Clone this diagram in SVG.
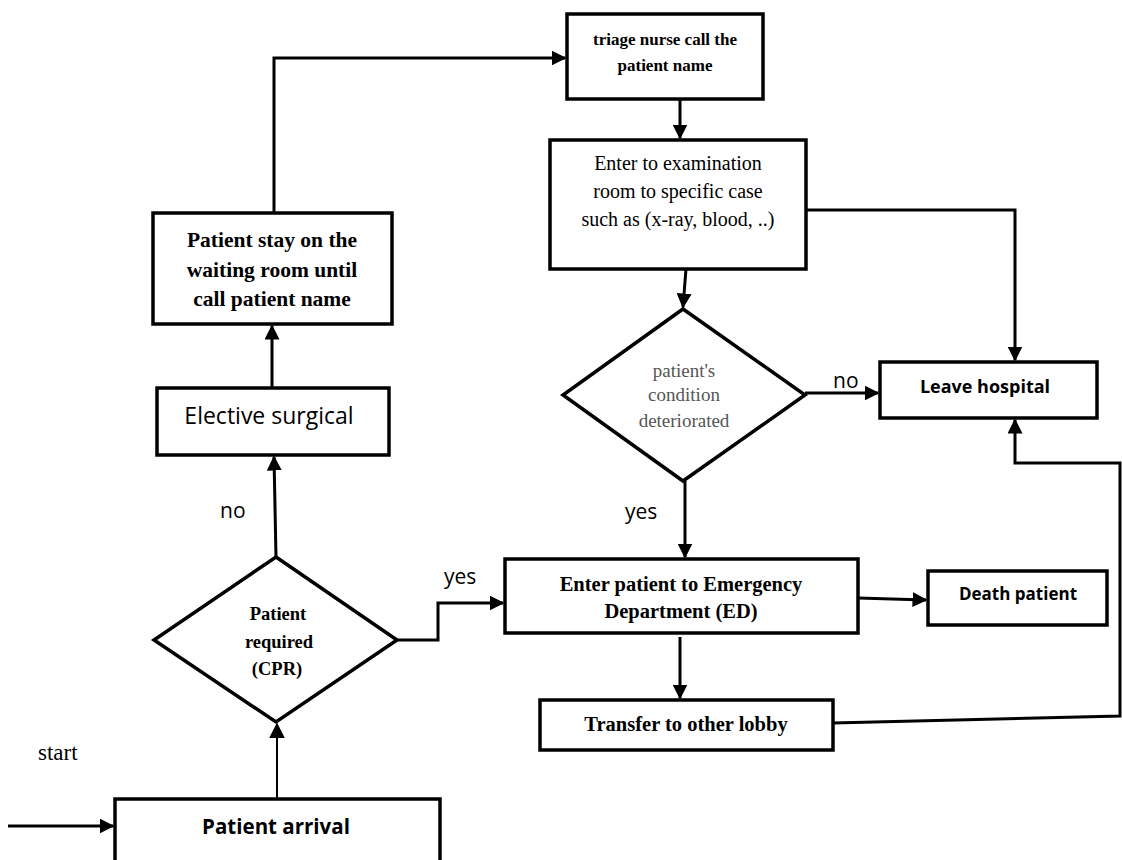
<svg xmlns="http://www.w3.org/2000/svg" width="1122" height="860" viewBox="0 0 1122 860">
<defs>
<marker id="ah" viewBox="0 0 10 10" refX="9" refY="5" markerWidth="5" markerHeight="5" markerUnits="strokeWidth" orient="auto">
<path d="M0,0 L10,5 L0,10 z" fill="#000"/>
</marker>
<marker id="ah2" viewBox="0 0 10 10" refX="9" refY="5" markerWidth="8" markerHeight="8" markerUnits="strokeWidth" orient="auto">
<path d="M0,0 L10,5 L0,10 z" fill="#000"/>
</marker>
<style>
.box{fill:#fff;stroke:#000;stroke-width:3.5}
.c{fill:none;stroke:#000;stroke-width:3}
.bs{font-family:"Liberation Serif",serif;font-weight:bold;fill:#000;text-anchor:middle}
.ns{font-family:"Liberation Serif",serif;font-size:20px;fill:#000;text-anchor:middle}
.gs{font-family:"Liberation Serif",serif;font-size:19px;fill:#555;text-anchor:middle}
.bsan{font-family:"Open Sans","Liberation Sans",sans-serif;font-weight:bold;fill:#000;text-anchor:middle}
.lab{font-family:"Open Sans","Liberation Sans",sans-serif;font-size:21px;fill:#000}
</style>
</defs>
<rect width="1122" height="860" fill="#fff"/>
<g id="connectors">
<path class="c" d="M274,213 V58 H565" marker-end="url(#ah)"/>
<path class="c" d="M680,99 V138" marker-end="url(#ah)"/>
<path class="c" d="M806,210 H1015 V360" marker-end="url(#ah)"/>
<path class="c" d="M686,269 L683,307" marker-end="url(#ah)"/>
<path class="c" d="M805,393 H878" marker-end="url(#ah)"/>
<path class="c" d="M685,481 V557" marker-end="url(#ah)"/>
<path class="c" d="M858,598 L926,600" marker-end="url(#ah)"/>
<path class="c" d="M680,637 V698" marker-end="url(#ah)"/>
<path class="c" d="M833,723 L1120,716 V463 H1015 V420" marker-end="url(#ah)"/>
<path class="c" d="M397,640 H438 V603 H503" marker-end="url(#ah)"/>
<path class="c" d="M276,557 L274,457" marker-end="url(#ah)"/>
<path class="c" d="M272,388 V326" marker-end="url(#ah)"/>
<path class="c" d="M8,826 H113" marker-end="url(#ah)"/>
<path d="M277,798 V724" fill="none" stroke="#000" stroke-width="2" marker-end="url(#ah2)"/>
</g>
<g id="triage"><rect class="box" x="567" y="14" width="196" height="85"/>
<text class="bs" font-size="17" x="665" y="45">triage nurse call the</text>
<text class="bs" font-size="17" x="665" y="71">patient name</text></g>
<g id="exam"><rect class="box" x="550" y="140" width="256" height="129"/>
<text class="ns" x="678" y="170">Enter to examination</text>
<text class="ns" x="678" y="198">room to specific case</text>
<text class="ns" x="678" y="226">such as (x-ray, blood, ..)</text></g>
<g id="deteriorated"><polygon class="box" points="683,309 805,395 683,481 563,395"/>
<text class="gs" x="684" y="377">patient's</text>
<text class="gs" x="684" y="401">condition</text>
<text class="gs" x="684" y="427">deteriorated</text></g>
<g id="leave"><rect class="box" x="880" y="362" width="217" height="56"/>
<text class="bsan" font-size="18" x="985" y="393">Leave hospital</text></g>
<g id="ed"><rect class="box" x="505" y="559" width="353" height="74"/>
<text class="bs" font-size="20.5" x="681" y="591">Enter patient to Emergency</text>
<text class="bs" font-size="20.5" x="681" y="618">Department (ED)</text></g>
<g id="death"><rect class="box" x="928" y="571" width="179" height="54"/>
<text class="bsan" font-size="17" x="1018" y="600">Death patient</text></g>
<g id="transfer"><rect class="box" x="540" y="700" width="293" height="50"/>
<text class="bs" font-size="20.5" x="686" y="731">Transfer to other lobby</text></g>
<g id="cpr"><polygon class="box" points="276,557 397,640 276,722 154,640"/>
<text class="bs" font-size="18.5" x="278" y="620">Patient</text>
<text class="bs" font-size="18.5" x="279" y="648">required</text>
<text class="bs" font-size="18.5" x="277" y="675">(CPR)</text></g>
<g id="elective"><rect class="box" x="157" y="388" width="232" height="67"/>
<text x="269" y="424" font-family="'Open Sans','Liberation Sans',sans-serif" font-size="23" text-anchor="middle">Elective surgical</text></g>
<g id="waiting"><rect class="box" x="153" y="213" width="239" height="111"/>
<text class="bs" font-size="21.5" x="272" y="247">Patient stay on the</text>
<text class="bs" font-size="21.5" x="272" y="277">waiting room until</text>
<text class="bs" font-size="21.5" x="272" y="306">call patient name</text></g>
<g id="arrival"><rect class="box" x="115" y="799" width="325" height="70"/>
<text class="bsan" font-size="20.5" x="276" y="834">Patient arrival</text></g>
<g id="labels">
<text class="lab" x="833" y="388">no</text>
<text class="lab" x="625" y="519">yes</text>
<text class="lab" x="444" y="584">yes</text>
<text class="lab" x="220" y="518">no</text>
<text x="38" y="760" font-family="'Liberation Serif',serif" font-size="23">start</text>
</g>
</svg>
